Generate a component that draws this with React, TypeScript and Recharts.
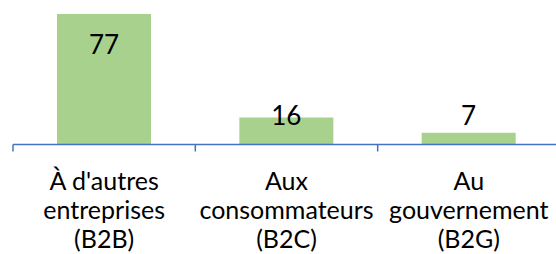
import { BarChart, Bar, XAxis, YAxis, LabelList } from 'recharts'

const categories = ["À d'autres\nentreprises\n(B2B)", 'Aux\nconsommateurs\n(B2C)', 'Au\ngouvernement\n(B2G)']
const values = [77, 16, 7]

const CHART_W = 562
const CHART_H = 254
const MARGIN = { top: 9, right: 2, left: 13, bottom: 0 }
const BAND = (CHART_W - MARGIN.left - MARGIN.right) / categories.length
const FONT = 'Lato, Carlito, Calibri, sans-serif'
const AXIS_BLUE = '#4472C4'

const data = categories.map((name, i) => ({ name, value: values[i] }))

function CategoryTick(props: any) {
  const { x, y, payload, index } = props
  const lines = String(payload.value).split('\n')
  return (
    <g>
      <line x1={x - BAND / 2} y1={y} x2={x - BAND / 2} y2={y + 7} stroke={AXIS_BLUE} strokeWidth={1.5} />
      {index === categories.length - 1 && (
        <line x1={x + BAND / 2} y1={y} x2={x + BAND / 2} y2={y + 7} stroke={AXIS_BLUE} strokeWidth={1.5} />
      )}
      <text x={x} y={y} textAnchor="middle" fontFamily={FONT} fontSize={25} fill="#000">
        {lines.map((l, i) => (
          <tspan key={i} x={x} y={y + 45 + i * 29}>{l}</tspan>
        ))}
      </text>
    </g>
  )
}

function ValueLabel(props: any) {
  const { x, y, width, height, value } = props
  const baseline = Math.min(y + 40, y + height - 19.5)
  return (
    <text x={x + width / 2} y={baseline} textAnchor="middle" fontFamily={FONT} fontSize={26} fill="#000">
      {value}
    </text>
  )
}

export default function App() {
  return (
    <div style={{ position: 'absolute', left: 0, top: 0, width: 556, height: 254, overflow: 'hidden', background: '#fff' }}>
      <BarChart width={CHART_W} height={CHART_H} data={data} margin={MARGIN}>
        <YAxis hide domain={[0, 80]} />
        <XAxis
          dataKey="name"
          height={109.5}
          interval={0}
          tickSize={0}
          tickMargin={0}
          tickLine={false}
          axisLine={{ stroke: AXIS_BLUE, strokeWidth: 1.5 }}
          tick={<CategoryTick />}
        />
        <Bar dataKey="value" fill="#A9D18E" barSize={94} isAnimationActive={false}>
          <LabelList dataKey="value" content={<ValueLabel />} />
        </Bar>
      </BarChart>
    </div>
  )
}
